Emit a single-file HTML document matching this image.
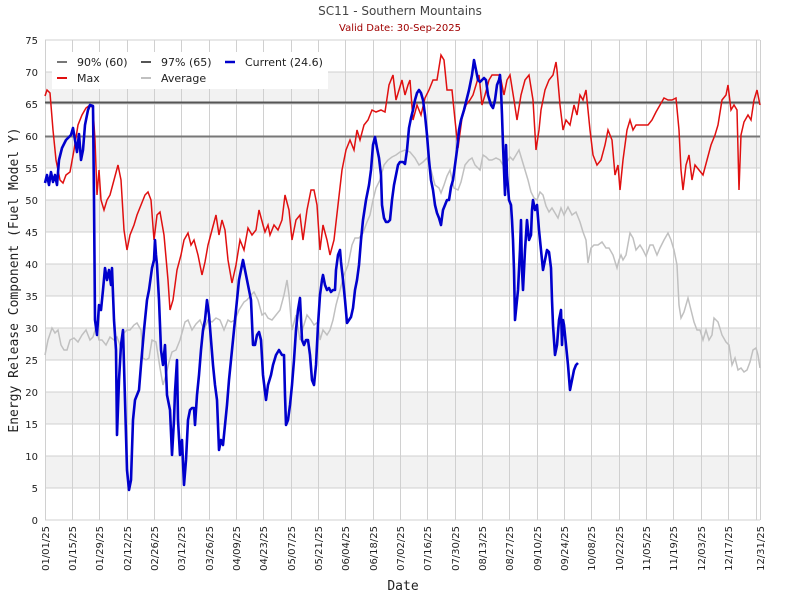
<!DOCTYPE html>
<html><head><meta charset="utf-8"><style>body{margin:0;background:#fff}svg{display:block}</style></head><body>
<svg width="800" height="600" xmlns="http://www.w3.org/2000/svg" font-family="DejaVu Sans, sans-serif">
<rect width="800" height="600" fill="#fff"/>
<text x="400" y="15" text-anchor="middle" font-size="12" fill="#444">SC11 - Southern Mountains</text>
<text x="400" y="31" text-anchor="middle" font-size="10" fill="#a00000">Valid Date: 30-Sep-2025</text>
<g fill="#f2f2f2">
<rect x="45" y="72" width="715" height="32"/><rect x="45" y="136" width="715" height="32"/><rect x="45" y="200" width="715" height="32"/><rect x="45" y="264" width="715" height="32"/><rect x="45" y="328" width="715" height="32"/><rect x="45" y="392" width="715" height="32"/><rect x="45" y="456" width="715" height="32"/>
</g>
<g stroke="#d0d0d0" stroke-width="1">
<path d="M45 40H760M45 72H760M45 104H760M45 136H760M45 168H760M45 200H760M45 232H760M45 264H760M45 296H760M45 328H760M45 360H760M45 392H760M45 424H760M45 456H760M45 488H760M45 520H760"/>
<path d="M45.5 40V520M72.5 40V520M99.5 40V520M127.5 40V520M154.5 40V520M181.5 40V520M209.5 40V520M236.5 40V520M263.5 40V520M291.5 40V520M318.5 40V520M345.5 40V520M373.5 40V520M400.5 40V520M427.5 40V520M455.5 40V520M482.5 40V520M509.5 40V520M537.5 40V520M564.5 40V520M591.5 40V520M619.5 40V520M646.5 40V520M673.5 40V520M701.5 40V520M728.5 40V520M756.5 40V520M760.5 40V520"/>
</g>
<g font-size="10" fill="#222" text-anchor="end">
<text x="38" y="44">75</text><text x="38" y="76">70</text><text x="38" y="108">65</text><text x="38" y="140">60</text><text x="38" y="172">55</text><text x="38" y="204">50</text><text x="38" y="236">45</text><text x="38" y="268">40</text><text x="38" y="300">35</text><text x="38" y="332">30</text><text x="38" y="364">25</text><text x="38" y="396">20</text><text x="38" y="428">15</text><text x="38" y="460">10</text><text x="38" y="492">5</text><text x="38" y="524">0</text>
</g>
<g font-size="10" fill="#222" text-anchor="end">
<text transform="translate(49,526) rotate(-90)">01/01/25</text><text transform="translate(76,526) rotate(-90)">01/15/25</text><text transform="translate(103,526) rotate(-90)">01/29/25</text><text transform="translate(131,526) rotate(-90)">02/12/25</text><text transform="translate(158,526) rotate(-90)">02/26/25</text><text transform="translate(185,526) rotate(-90)">03/12/25</text><text transform="translate(213,526) rotate(-90)">03/26/25</text><text transform="translate(240,526) rotate(-90)">04/09/25</text><text transform="translate(267,526) rotate(-90)">04/23/25</text><text transform="translate(295,526) rotate(-90)">05/07/25</text><text transform="translate(322,526) rotate(-90)">05/21/25</text><text transform="translate(349,526) rotate(-90)">06/04/25</text><text transform="translate(377,526) rotate(-90)">06/18/25</text><text transform="translate(404,526) rotate(-90)">07/02/25</text><text transform="translate(431,526) rotate(-90)">07/16/25</text><text transform="translate(459,526) rotate(-90)">07/30/25</text><text transform="translate(486,526) rotate(-90)">08/13/25</text><text transform="translate(513,526) rotate(-90)">08/27/25</text><text transform="translate(541,526) rotate(-90)">09/10/25</text><text transform="translate(568,526) rotate(-90)">09/24/25</text><text transform="translate(595,526) rotate(-90)">10/08/25</text><text transform="translate(623,526) rotate(-90)">10/22/25</text><text transform="translate(650,526) rotate(-90)">11/05/25</text><text transform="translate(677,526) rotate(-90)">11/19/25</text><text transform="translate(705,526) rotate(-90)">12/03/25</text><text transform="translate(732,526) rotate(-90)">12/17/25</text><text transform="translate(764,526) rotate(-90)">12/31/25</text>
</g>
<text x="403" y="590" text-anchor="middle" font-size="13" font-family="DejaVu Sans Mono, monospace" fill="#222">Date</text>
<text transform="translate(18,280) rotate(-90)" text-anchor="middle" font-size="13" font-family="DejaVu Sans Mono, monospace" fill="#222">Energy Release Component (Fuel Model Y)</text>
<path d="M45 136.5H760" stroke="#777" stroke-width="2"/>
<path d="M45 102.5H760" stroke="#555" stroke-width="2"/>
<polyline fill="none" stroke="#c0c0c0" stroke-width="1.5" points="45,355 48,340 52,328 55,333 58,330 61,345 64,350 67,350 70,340 74,338 78,342 82,335 86,330 90,340 93,337 96,327 99,340 102,340 106,345 110,337 114,340 117,337 120,345 124,333 127,330 130,330 134,325 137,323 141,330 143,358 146,360 149,358 152,340 156,342 160,368 163,385 166,375 169,362 172,352 176,350 180,340 185,322 188,320 192,330 196,324 200,320 204,330 208,320 212,322 216,318 220,320 224,330 228,320 231,322 235,320 239,310 244,302 247,300 251,295 254,292 258,300 262,315 265,313 268,318 272,320 276,315 280,310 284,295 287,280 289,295 292,330 296,315 300,340 303,328 307,315 311,320 314,325 318,322 320,340 323,330 327,335 330,330 333,320 336,305 340,290 344,275 348,265 352,245 355,238 359,238 363,233 367,222 370,215 373,200 376,188 380,180 384,165 388,160 392,157 396,155 400,152 405,150 410,152 415,158 419,165 423,162 427,158 431,170 435,185 439,188 441,193 444,185 447,176 450,170 454,188 458,190 461,182 465,165 469,160 472,158 475,165 480,170 483,155 486,157 489,160 492,160 496,158 500,160 503,165 507,162 510,157 513,160 516,155 519,150 522,160 525,170 528,180 531,192 534,198 537,200 540,192 543,195 546,206 549,212 552,208 555,213 558,218 561,208 564,215 568,207 572,215 576,212 580,222 583,232 586,240 588,263 591,248 594,245 598,245 602,242 606,248 609,248 613,255 617,268 619,260 621,255 623,260 626,255 630,233 633,238 636,250 640,245 643,250 646,256 650,245 653,245 657,255 660,248 664,240 668,233 671,240 674,250 677,265 679,305 681,318 684,312 688,298 691,310 694,322 697,330 700,330 703,340 706,330 709,340 712,335 714,318 718,322 722,335 726,342 729,345 732,365 735,358 738,370 741,368 744,372 747,370 750,362 753,350 756,348 758,355 760,368"/>
<polyline fill="none" stroke="#e01010" stroke-width="1.5" points="45,96 47,90 50,93 53,130 56,160 60,180 63,183 66,175 70,172 74,150 78,125 82,115 86,108 90,105 93,108 95,140 97,195 99,170 101,200 104,210 107,200 110,195 114,180 118,165 121,180 124,230 127,250 130,235 134,225 137,215 141,205 145,195 148,192 151,200 154,240 157,215 160,212 164,235 168,280 170,310 173,300 177,270 181,255 184,240 188,233 191,245 194,240 198,255 202,275 205,262 208,245 212,230 216,215 219,235 222,220 225,230 228,260 232,283 236,265 240,240 244,250 248,228 252,235 256,230 259,210 263,225 265,232 268,225 270,235 274,225 278,230 282,220 285,195 289,210 292,240 296,220 300,215 303,240 307,210 311,190 314,190 317,205 320,250 323,225 327,240 330,255 334,240 338,205 342,170 346,150 350,140 354,150 357,130 360,140 364,125 368,120 372,110 376,112 381,110 385,112 389,85 393,75 396,100 399,90 402,80 405,95 408,85 410,80 413,120 417,105 421,115 425,98 429,90 433,80 437,80 441,55 444,60 447,90 452,90 455,120 458,148 462,118 466,105 470,100 473,95 476,85 479,75 482,105 485,95 489,80 492,75 496,75 500,75 504,95 507,80 510,75 514,100 517,120 521,95 525,80 529,75 533,100 536,150 539,130 541,110 545,90 549,80 553,75 556,62 557,70 560,105 563,130 566,120 570,125 574,105 577,115 580,95 583,100 586,90 590,130 593,155 597,165 601,160 605,145 608,130 612,140 615,175 618,165 620,190 623,160 627,130 630,120 633,130 636,125 640,125 644,125 648,125 652,120 656,112 660,105 664,98 668,100 672,100 676,98 679,130 681,170 683,190 686,165 689,155 692,180 695,165 699,170 703,175 707,160 711,145 715,135 718,125 722,100 726,95 728,85 731,110 734,105 737,110 739,190 741,135 744,122 748,115 751,120 754,100 757,90 760,105"/>
<polyline fill="none" stroke="#0000cc" stroke-width="2.6" stroke-linejoin="round" points="45,183 47,175 49,185 51,172 53,182 55,175 57,185 59,160 62,148 66,140 69,137 71,135 73,128 75,140 77,152 79,134 81,160 83,150 85,125 88,110 90,105 93,106 94,200 95,320 97,335 99,305 101,310 103,290 105,268 107,280 109,270 111,285 112,268 114,320 116,350 117,435 119,380 121,345 123,330 125,400 127,470 129,490 131,480 133,420 135,400 137,395 139,390 141,365 144,330 147,300 149,290 152,268 154,260 155,240 156,255 157,265 159,300 161,350 163,365 165,345 167,395 170,410 172,455 174,420 175,392 177,360 178,420 180,455 182,440 184,485 186,460 188,420 190,410 192,408 194,408 195,425 197,395 199,375 201,350 203,330 205,320 207,300 209,315 211,340 213,365 215,385 217,400 219,450 221,440 223,445 225,425 227,405 229,380 231,360 233,340 235,320 237,300 239,280 241,270 243,260 245,270 247,280 249,290 251,300 253,345 255,345 257,335 259,332 261,340 263,375 266,400 268,385 271,375 273,365 276,355 279,350 282,355 284,355 285,395 286,425 288,420 290,405 292,385 294,360 296,330 298,310 300,298 302,340 304,345 306,340 308,340 310,355 312,380 314,385 316,365 318,325 320,295 322,280 323,275 325,285 327,290 329,288 331,292 333,290 335,290 336,270 338,255 340,250 341,262 343,280 345,300 347,323 349,320 351,317 353,308 355,290 357,280 359,265 361,240 363,220 366,200 369,185 371,170 373,145 375,137 377,148 379,158 381,175 382,205 384,218 386,222 388,222 390,220 392,200 394,185 396,175 398,165 400,162 403,162 405,164 407,150 409,128 411,118 413,110 415,100 417,93 419,90 421,93 423,100 425,115 427,135 429,160 431,180 433,190 435,205 437,213 439,218 441,225 443,210 445,205 447,200 449,200 451,187 453,180 455,165 457,150 459,130 461,120 464,110 467,98 469,90 472,75 474,60 476,70 478,80 480,82 482,80 484,78 486,80 488,95 491,105 493,108 495,100 497,85 499,80 500,75 501,90 502,115 503,145 504,170 505,195 506,145 507,175 509,200 511,205 512,220 513,240 514,270 515,320 516,310 518,290 520,250 521,220 522,270 523,290 525,250 527,220 529,240 531,235 532,210 533,200 535,210 537,205 539,230 541,250 543,270 545,260 547,250 549,252 551,268 552,300 553,325 555,355 557,345 559,320 561,310 562,345 563,320 564,325 566,345 568,365 570,390 572,380 574,370 576,365 578,363"/>
<rect x="52" y="52" width="276" height="37" fill="#fff"/>
<g font-size="11" fill="#222">
<path d="M57 62H67" stroke="#777" stroke-width="2"/><text x="77" y="66">90% (60)</text>
<path d="M141 62H151" stroke="#555" stroke-width="2"/><text x="161" y="66">97% (65)</text>
<path d="M225 62H235" stroke="#0000cc" stroke-width="2.5"/><text x="245" y="66">Current (24.6)</text>
<path d="M57 78H67" stroke="#e01010" stroke-width="2"/><text x="77" y="82">Max</text>
<path d="M141 78H151" stroke="#c0c0c0" stroke-width="2"/><text x="161" y="82">Average</text>
</g>
</svg>
</body></html>
